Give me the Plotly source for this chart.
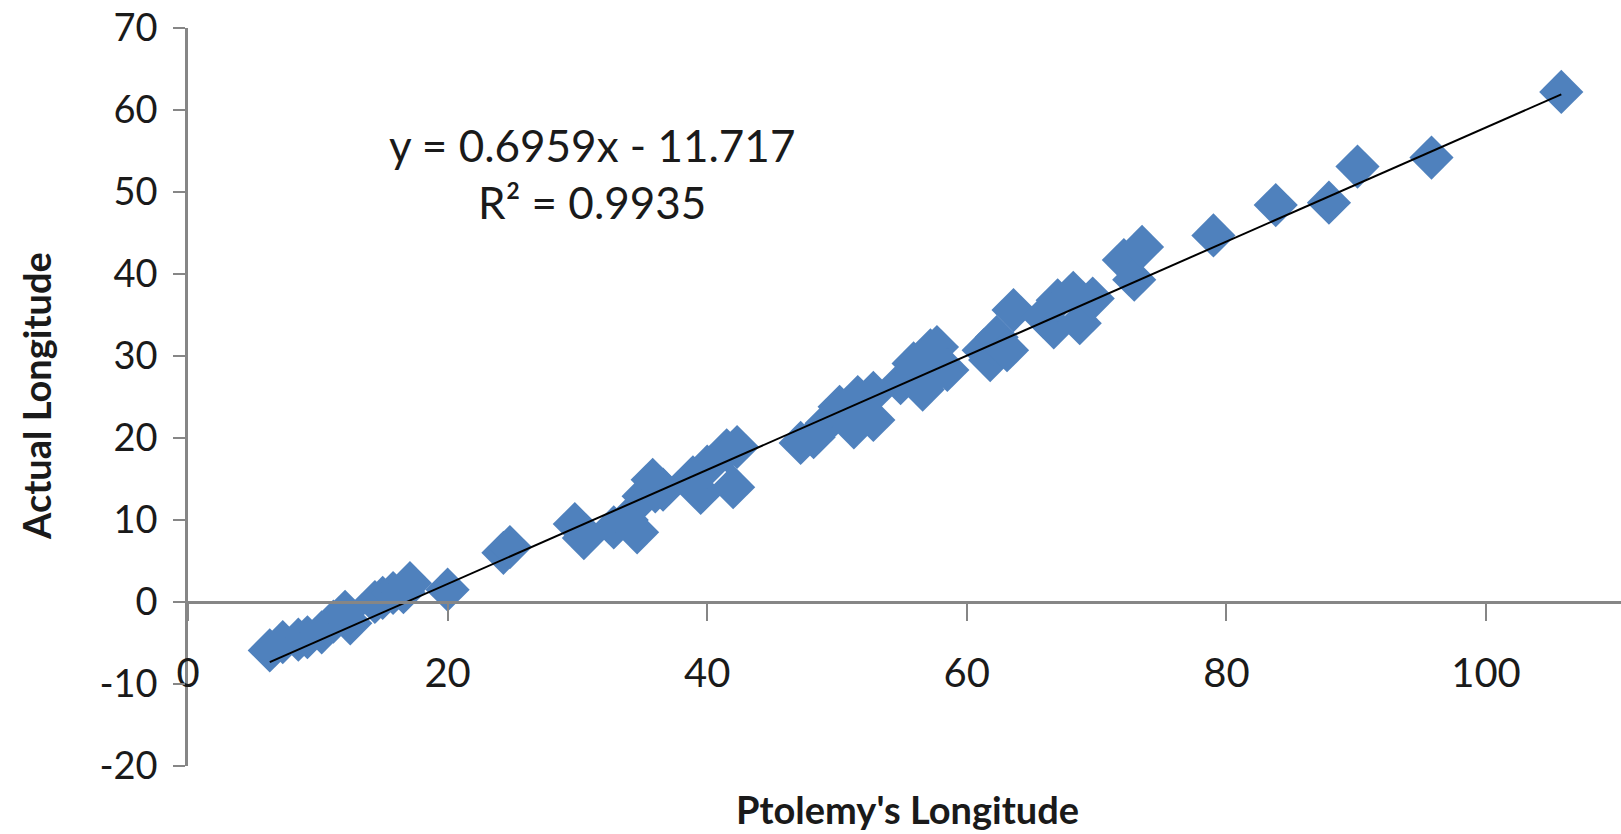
import plotly.graph_objects as go

# Ptolemy's longitude (x) vs actual longitude (y)
ptolemy_lon = [6.3, 7.3, 8.5, 9.2, 10.3, 11.2, 12.1, 12.5, 14.4, 15.0, 15.8, 16.6, 17.1, 20.0,
               24.3, 24.8, 29.8, 30.5,
               32.8, 33.8, 34.6, 35.1, 35.8, 36.0, 36.6, 38.9, 39.5, 40.0, 41.5, 42.0, 42.3,
               47.2, 48.2, 49.2, 50.2, 50.8, 51.3, 51.6, 52.8, 52.8,
               54.9, 55.9, 56.2, 56.6, 57.0, 57.2, 57.7, 58.5,
               61.3, 61.8, 62.0, 62.3, 63.1, 63.6,
               65.9, 66.7, 67.0, 68.2, 68.7, 69.7,
               72.1, 72.9, 73.5,
               79.0, 83.8, 87.9, 90.1, 95.8, 105.8]
actual_lon = [-5.9, -4.9, -4.6, -4.3, -3.7, -2.4, -1.2, -2.6, 0.0, 0.5, 1.1, 1.2, 2.3, 1.5,
              6.0, 6.7, 9.5, 7.8,
              9.1, 10.0, 8.5, 12.9, 14.9, 13.5, 13.7, 15.2, 13.3, 16.5, 18.5, 14.0, 18.9,
              19.4, 20.1, 21.8, 23.8, 22.5, 21.3, 25.0, 25.5, 22.2,
              26.7, 29.1, 28.0, 25.9, 27.0, 30.7, 31.1, 28.3,
              30.7, 29.5, 31.5, 32.3, 30.7, 35.6,
              34.8, 33.5, 36.8, 37.7, 34.0, 37.0,
              41.7, 39.3, 43.3,
              44.7, 48.4, 48.7, 53.1, 54.2, 62.2]

# Linear trendline reported on the chart
slope = 0.6959
intercept = -11.717
r_squared = 0.9935

x_ticks = [0, 20, 40, 60, 80, 100]
y_ticks = [-20, -10, 0, 10, 20, 30, 40, 50, 60, 70]

FONT = "Lato"
BLUE = "#4F81BD"
AXIS_GRAY = "#868686"
TEXT = "#1a1a1a"

x_line = [min(ptolemy_lon), max(ptolemy_lon)]
y_line = [slope * v + intercept for v in x_line]

fig = go.Figure()
fig.add_trace(go.Scatter(
    x=ptolemy_lon, y=actual_lon, mode="markers",
    marker=dict(symbol="diamond", size=34, color=BLUE, line=dict(width=0)),
    showlegend=False, hoverinfo="x+y",
))
fig.add_trace(go.Scatter(
    x=x_line, y=y_line, mode="lines",
    line=dict(color="#000000", width=2),
    showlegend=False, hoverinfo="skip",
))

fig.add_annotation(
    x=31.1, y=52.2, xref="x", yref="y",
    text=f"y = {slope}x - {abs(intercept)}<br>R² = {r_squared}",
    showarrow=False, align="center",
    font=dict(family=FONT, size=44, color=TEXT),
)

y_min, y_max = -20, 70
fig.update_layout(
    template="none",
    width=1621, height=834,
    margin=dict(l=188, r=0, t=28, b=68, autoexpand=False),
    paper_bgcolor="white", plot_bgcolor="white",
    font=dict(family=FONT, color=TEXT),
    showlegend=False,
    xaxis=dict(
        range=[0, 110.4], tickvals=x_ticks, ticktext=[str(v) for v in x_ticks],
        anchor="free", position=(0 - y_min) / (y_max - y_min),
        showline=True, linecolor=AXIS_GRAY, linewidth=2.5,
        ticks="outside", ticklen=17, tickwidth=2, tickcolor=AXIS_GRAY,
        ticklabelstandoff=18,
        tickfont=dict(family=FONT, size=40, color=TEXT),
        showgrid=False, zeroline=False, automargin=False,
    ),
    yaxis=dict(
        range=[y_min, y_max], tickvals=y_ticks, ticktext=[str(v) for v in y_ticks],
        domain=[0, 1],
        showline=True, linecolor=AXIS_GRAY, linewidth=2.5,
        ticks="outside", ticklen=12, tickwidth=2, tickcolor=AXIS_GRAY,
        ticklabelstandoff=8,
        tickfont=dict(family=FONT, size=38, color=TEXT),
        showgrid=False, zeroline=False, automargin=False,
    ),
)

fig.add_annotation(
    text="<b>Ptolemy's Longitude</b>", showarrow=False,
    xref="paper", yref="paper", x=(878 * 1621 / 1568 - 188) / (1621 - 188), y=-(809 - 766) / 738,
    xanchor="center", yanchor="middle",
    font=dict(family=FONT, size=38, color=TEXT),
)
fig.add_annotation(
    text="<b>Actual Longitude</b>", showarrow=False, textangle=-90,
    xref="paper", yref="paper", x=-(188 - 36) / (1621 - 188), y=(766 - 396) / 738,
    xanchor="center", yanchor="middle",
    font=dict(family=FONT, size=38, color=TEXT),
)

fig.write_html(
    "out.html",
    config={"displayModeBar": False},
    post_script="document.body.style.margin='0px';document.body.style.overflow='hidden';",
)
